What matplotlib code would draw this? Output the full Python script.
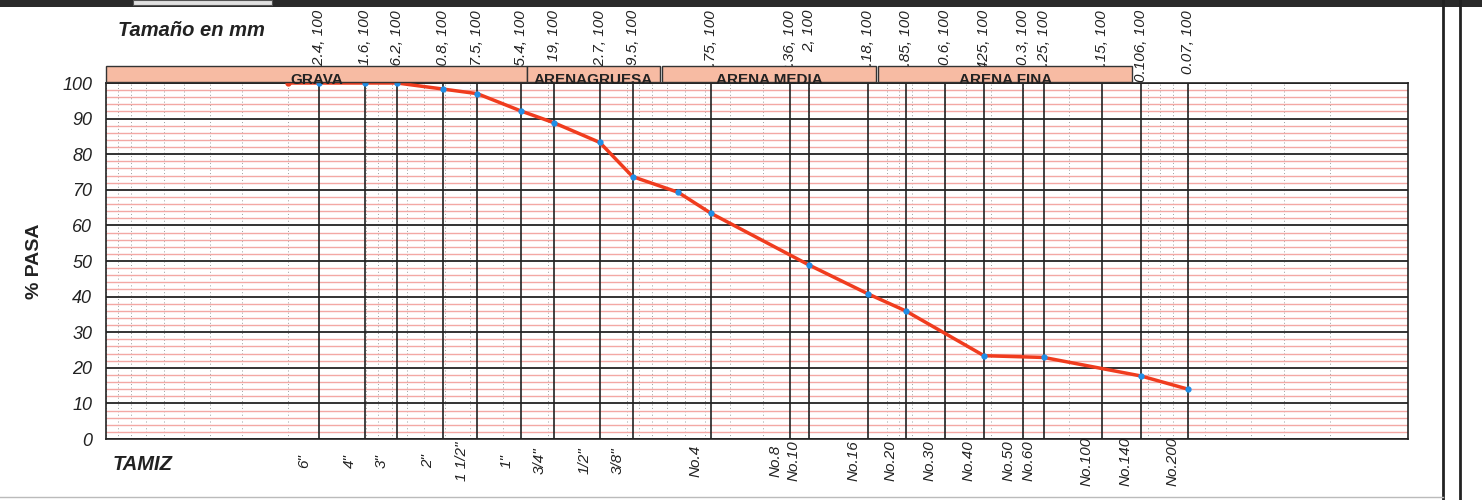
import numpy as np
import matplotlib
matplotlib.use("Agg")
import matplotlib.pyplot as plt
from matplotlib.patches import Rectangle
from matplotlib.lines import Line2D
from matplotlib import transforms
from matplotlib.ticker import LogLocator, MultipleLocator, NullLocator

plt.rcParams['font.family'] = ['Liberation Sans', 'DejaVu Sans']

# Tamices (lineas verticales)
tamiz_mm = [152.4, 101.6, 76.2, 50.8, 37.5, 25.4, 19.0, 12.7, 9.5, 4.75, 2.36, 2.0,
            1.18, 0.85, 0.6, 0.425, 0.3, 0.25, 0.15, 0.106, 0.07]
tamiz_tope = [100] * len(tamiz_mm)
tamiz_nombre = ['6"', '4"', '3"', '2"', '1 1/2"', '1"', '3/4"', '1/2"', '3/8"', 'No.4',
                'No.8', 'No.10', 'No.16', 'No.20', 'No.30', 'No.40', 'No.50', 'No.60',
                'No.100', 'No.140', 'No.200']

# Curva granulometrica
curva_mm = [200, 152.4, 101.6, 76.2, 50.8, 37.5, 25.4, 19.0, 12.7, 9.5, 6.35, 4.75,
            2.0, 1.18, 0.85, 0.425, 0.25, 0.106, 0.07]
curva_pasa = [100, 100, 100, 100, 98.3, 97.0, 92.1, 88.8, 83.3, 73.7, 69.3, 63.4,
              48.9, 40.7, 36.0, 23.4, 22.9, 17.7, 14.0]

# Zonas
zonas = ['GRAVA', 'ARENAGRUESA', 'ARENA MEDIA', 'ARENA FINA']
zona_desde = [1000, 24.2, 7.3, 1.08]
zona_hasta = [24.2, 7.46, 1.10, 0.115]

W, H = 1482, 500
fig = plt.figure(figsize=(W / 100, H / 100), dpi=100)
ax = fig.add_axes([106 / W, 1 - 439 / H, (1408 - 106) / W, (439 - 83) / H])

ax.set_xscale('log')
ax.set_xlim(1000, 0.01)
ax.set_ylim(0, 100)

# rejilla
ax.xaxis.set_major_locator(NullLocator())
ax.xaxis.set_minor_locator(LogLocator(base=10, subs=np.arange(1, 10), numticks=50))
ax.yaxis.set_major_locator(MultipleLocator(10))
ax.yaxis.set_minor_locator(MultipleLocator(2))
ax.grid(which='minor', axis='x', color='#9a9a9a', linestyle=(0, (1, 2.5)), lw=0.7)
ax.grid(which='minor', axis='y', color='#f3a8a4', lw=1.0)
ax.grid(which='major', axis='y', color='#333333', lw=1.4)
ax.set_axisbelow(True)

ax.vlines(tamiz_mm, 0, tamiz_tope, color='#222222', lw=1.2, zorder=2)

ax.plot(curva_mm, curva_pasa, color='#f03c1e', lw=2.5, zorder=3)
ax.plot(curva_mm[1:], curva_pasa[1:], ls='none', marker='o', ms=3.5,
        mfc='#1f8fe8', mec='#1f8fe8', zorder=4)
ax.plot(curva_mm[:1], curva_pasa[:1], ls='none', marker='o', ms=3.5,
        mfc='#f03c1e', mec='#f03c1e', zorder=4)

for s in ax.spines.values():
    s.set_color('#222222')
    s.set_linewidth(1.2)

ax.tick_params(axis='x', which='both', length=0, labelbottom=False)
ax.tick_params(axis='y', which='both', length=0, pad=10)
for t in ax.get_yticklabels():
    t.set_fontsize(13)
    t.set_fontstyle('italic')
    t.set_color('#222222')

ax.set_ylabel('% PASA', fontsize=14, fontweight='bold', color='#222222', labelpad=14)

band = transforms.blended_transform_factory(ax.transData, fig.transFigure)

# etiquetas superiores (x, y)
for s, y in zip(tamiz_mm, tamiz_tope):
    ax.text(s, 1 - 10 / H, f'{s:g}, {y:g}', rotation=90, ha='center', va='top',
            fontsize=11, fontstyle='italic', color='#222222',
            transform=band, clip_on=False, zorder=4)

# franjas de zonas
for nombre, a, b in zip(zonas, zona_desde, zona_hasta):
    ax.add_patch(Rectangle((a, 1 - 82 / H), b - a, 16 / H, transform=band,
                           facecolor='#f7bba3', edgecolor='#333333', lw=1.0,
                           clip_on=False, zorder=6))
    xm = np.sqrt(a * b)
    ax.text(xm, 1 - 84 / H, nombre, ha='center', va='baseline', fontsize=11,
            fontweight='bold', color='#222222', transform=band,
            clip_on=False, zorder=7)

# nombres de tamices
bottom = transforms.offset_copy(band, fig, x=-15, y=0, units='dots')
for s, n in zip(tamiz_mm, tamiz_nombre):
    ax.text(s, 1 - 461 / H, n, rotation=90, ha='center', va='center',
            fontsize=11, fontstyle='italic', color='#222222',
            transform=bottom, clip_on=False)

fig.text(118 / W, 1 - 30 / H, 'Tamaño en mm', fontsize=14.5, fontweight='bold',
         fontstyle='italic', color='#222222', va='center', ha='left')
fig.text(113 / W, 1 - 465 / H, 'TAMIZ', fontsize=14.5, fontweight='bold',
         fontstyle='italic', color='#222222', va='center', ha='left')

# marco exterior
fig.add_artist(Rectangle((0, 1 - 7 / H), 1, 7 / H, transform=fig.transFigure,
                         facecolor='#2a2a2a', edgecolor='none'))
fig.add_artist(Rectangle((133 / W, 1 - 5 / H), 139 / W, 5 / H, transform=fig.transFigure,
                         facecolor='#e0e0e0', edgecolor='#555555', lw=0.8))
for xp in (1443, 1460):
    fig.add_artist(Line2D([xp / W, xp / W], [0, 1], transform=fig.transFigure,
                          color='#222222', lw=2.0))
fig.add_artist(Line2D([0, 1443 / W], [3 / H, 3 / H], transform=fig.transFigure,
                      color='#bbbbbb', lw=1.0))

fig.savefig('out.png', dpi=100)
